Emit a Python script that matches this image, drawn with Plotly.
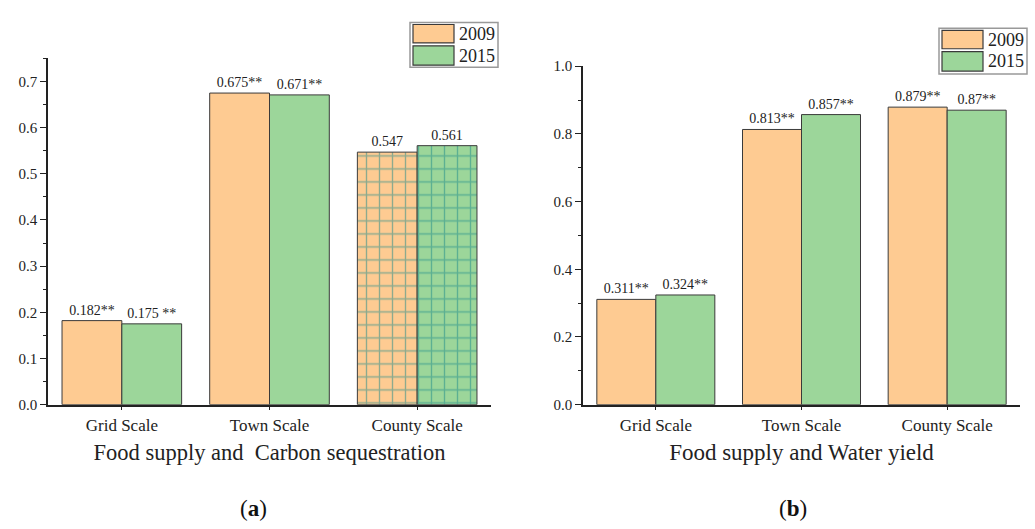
import plotly.graph_objects as go

categories = ["Grid Scale", "Town Scale", "County Scale"]
years = ["2009", "2015"]

carbon_2009 = [0.182, 0.675, 0.547]
carbon_2015 = [0.175, 0.671, 0.561]
carbon_labels_2009 = ["0.182**", "0.675**", "0.547"]
carbon_labels_2015 = ["0.175 **", "0.671**", "0.561"]
carbon_hatch = ["", "", "+"]

water_2009 = [0.311, 0.813, 0.879]
water_2015 = [0.324, 0.857, 0.870]
water_labels_2009 = ["0.311**", "0.813**", "0.879**"]
water_labels_2015 = ["0.324**", "0.857**", "0.87**"]
water_hatch = ["", "", ""]

y_ticks_a = [0.0, 0.1, 0.2, 0.3, 0.4, 0.5, 0.6, 0.7]
y_ticks_b = [0.0, 0.2, 0.4, 0.6, 0.8, 1.0]

ORANGE = "#FECB92"
GREEN = "#9CD69A"
EDGE = "#3a3a3a"
TEAL = "#1B8A8A"
FONT = "Liberation Serif"

W, H = 1035, 529


def px(x):
    return x / W


def py(y):
    return 1 - y / H


fig = go.Figure()


def add_bars(vals, labels, hatch, color, xa, ya, name):
    fig.add_trace(go.Bar(
        x=categories, y=vals, name=name, text=labels,
        textposition="outside", cliponaxis=False,
        textfont=dict(family=FONT, size=14, color="#222"),
        marker=dict(color=color, line=dict(color=EDGE, width=1),
                    pattern=dict(shape=hatch, fgcolor=TEAL, size=13,
                                 solidity=0.2, fillmode="overlay")),
        xaxis=xa, yaxis=ya, showlegend=False,
    ))


add_bars(carbon_2009, carbon_labels_2009, carbon_hatch, ORANGE, "x", "y", years[0])
add_bars(carbon_2015, carbon_labels_2015, carbon_hatch, GREEN, "x", "y", years[1])
add_bars(water_2009, water_labels_2009, water_hatch, ORANGE, "x2", "y2", years[0])
add_bars(water_2015, water_labels_2015, water_hatch, GREEN, "x2", "y2", years[1])

axis_common = dict(showline=True, linecolor="#222", linewidth=1.5, ticks="outside",
                   tickcolor="#222", showgrid=False, zeroline=False)
xfont = dict(family=FONT, size=17, color="#222")
yfont = dict(family=FONT, size=15, color="#222")

fig.update_layout(
    width=W, height=H, margin=dict(l=0, r=0, t=0, b=0),
    plot_bgcolor="white", paper_bgcolor="white",
    barmode="group", bargap=0.19, bargroupgap=0,
    xaxis=dict(domain=[px(48), px(491)], anchor="y", range=[-0.5, 2.5],
               ticklen=4, tickwidth=1.2, tickfont=xfont,
               title=dict(text="Food supply and\u00a0 Carbon sequestration",
                          font=dict(family=FONT, size=22.5, color="#222"), standoff=10),
               **axis_common),
    yaxis=dict(domain=[py(409), py(52)], anchor="x", range=[0, 0.75],
               tickvals=y_ticks_a, tickformat=".1f", ticklen=6, tickwidth=1.2,
               tickfont=yfont,
               minor=dict(ticks="outside", ticklen=3, dtick=0.05, tick0=0, tickcolor="#222"),
               **axis_common),
    xaxis2=dict(domain=[px(583), px(1020)], anchor="y2", range=[-0.5, 2.5],
                ticklen=4, tickwidth=1.2, tickfont=xfont,
                title=dict(text="Food supply and Water yield",
                           font=dict(family=FONT, size=23, color="#222"), standoff=10),
                **axis_common),
    yaxis2=dict(domain=[py(409), py(60)], anchor="x2", range=[0, 1.0],
                tickvals=y_ticks_b, tickformat=".1f", ticklen=6, tickwidth=1.2,
                tickfont=yfont,
                minor=dict(ticks="outside", ticklen=3, dtick=0.1, tick0=0, tickcolor="#222"),
                **axis_common),
)

# Manual legends (large swatches as in reference)
shapes = []
annotations = []


def legend_box(x0, y0, x1, y1):
    shapes.append(dict(type="rect", xref="paper", yref="paper",
                       x0=px(x0), x1=px(x1), y0=py(y1), y1=py(y0),
                       line=dict(color="#999", width=1.5), fillcolor="white"))
    sw_x0, sw_x1 = x0 + 3, x0 + 44
    rows = [(y0 + 2, y0 + 21), (y0 + 24, y0 + 44)]
    for (r0, r1), col, lab in zip(rows, [ORANGE, GREEN], years):
        shapes.append(dict(type="rect", xref="paper", yref="paper",
                           x0=px(sw_x0), x1=px(sw_x1), y0=py(r1), y1=py(r0),
                           line=dict(color=EDGE, width=1.2), fillcolor=col))
        annotations.append(dict(xref="paper", yref="paper", x=px(sw_x1 + 3), y=py((r0 + r1) / 2),
                                text=lab, showarrow=False, xanchor="left", yanchor="middle",
                                font=dict(family=FONT, size=18, color="#222")))


legend_box(410, 15, 498, 61)
legend_box(939, 21, 1027, 68)

annotations.append(dict(xref="paper", yref="paper", x=px(253), y=py(516), text="(<b>a</b>)",
                        showarrow=False, xanchor="center", yanchor="middle",
                        font=dict(family=FONT, size=23, color="#111")))
annotations.append(dict(xref="paper", yref="paper", x=px(793), y=py(516), text="(<b>b</b>)",
                        showarrow=False, xanchor="center", yanchor="middle",
                        font=dict(family=FONT, size=23, color="#111")))

fig.update_layout(shapes=shapes, annotations=annotations)

fig.write_html("out.html", config={"displayModeBar": False},
               post_script="document.body.style.margin='0';document.body.style.overflow='hidden';")
